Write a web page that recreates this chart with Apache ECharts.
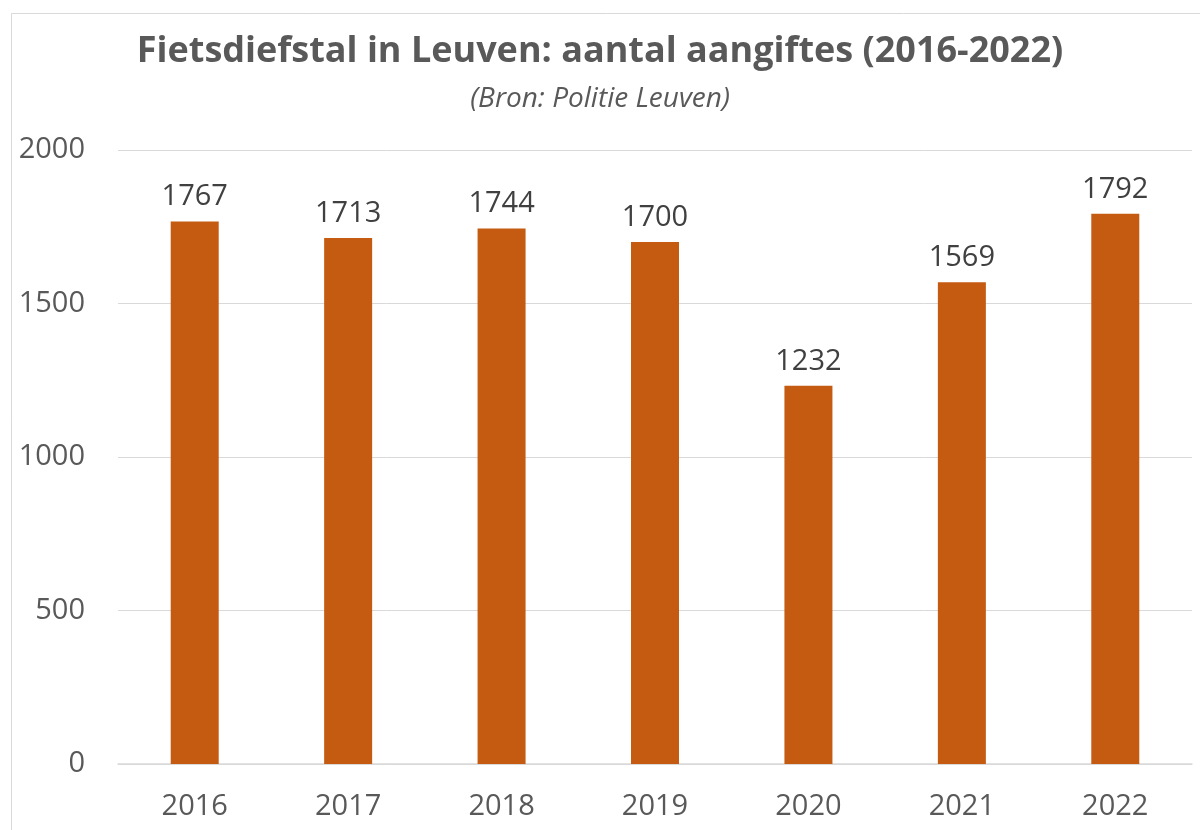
<!DOCTYPE html>
<html>
<head>
<meta charset="utf-8">
<script src="https://cdn.jsdelivr.net/npm/echarts@6/dist/echarts.min.js"></script>
<style>
    html, body { margin: 0; padding: 0; background: #fff; }
    #chart { width: 1200px; height: 830px; }
</style>
</head>
<body>
<div id="chart"></div>
<script>
const years = ['2016', '2017', '2018', '2019', '2020', '2021', '2022'];
const aangiftes = [1767, 1713, 1744, 1700, 1232, 1569, 1792];
const yTicks = { min: 0, max: 2000, interval: 500 };

var chart = echarts.init(document.getElementById('chart'));

var option = {
    backgroundColor: '#ffffff',
    textStyle: { fontFamily: 'Open Sans' },
    graphic: [
        {
            type: 'rect',
            left: 9, top: 11,
            shape: { width: 1200, height: 830 },
            style: { fill: 'none', stroke: '#d9d9d9', lineWidth: 1 },
            silent: true
        }
    ],
    title: {
        text: 'Fietsdiefstal in Leuven: aantal aangiftes (2016-2022)',
        subtext: '(Bron: Politie Leuven)',
        left: 'center',
        top: 29,
        itemGap: 15,
        textStyle: {
            fontSize: 36,
            fontWeight: 'bold',
            color: '#595959'
        },
        subtextStyle: {
            fontSize: 28,
            fontStyle: 'italic',
            color: '#595959'
        }
    },
    grid: {
        left: 118,
        right: 8,
        top: 150,
        bottom: 66
    },
    xAxis: {
        type: 'category',
        data: years,
        axisTick: { show: false },
        axisLine: { lineStyle: { color: '#d9d9d9', width: 1.5 } },
        axisLabel: { fontSize: 29, color: '#595959', margin: 28 }
    },
    yAxis: {
        type: 'value',
        min: yTicks.min,
        max: yTicks.max,
        interval: yTicks.interval,
        axisLabel: {
            fontSize: 29,
            color: '#595959',
            margin: 33,
            formatter: function (v) { return String(v); }
        },
        splitLine: { lineStyle: { color: '#d9d9d9' } }
    },
    series: [
        {
            name: 'Aangiftes',
            type: 'bar',
            data: aangiftes,
            barWidth: 48,
            itemStyle: { color: '#c55a11' },
            label: {
                show: true,
                position: 'top',
                distance: 10,
                fontSize: 29,
                color: '#404040'
            }
        }
    ]
};
chart.setOption(option);
</script>
</body>
</html>
